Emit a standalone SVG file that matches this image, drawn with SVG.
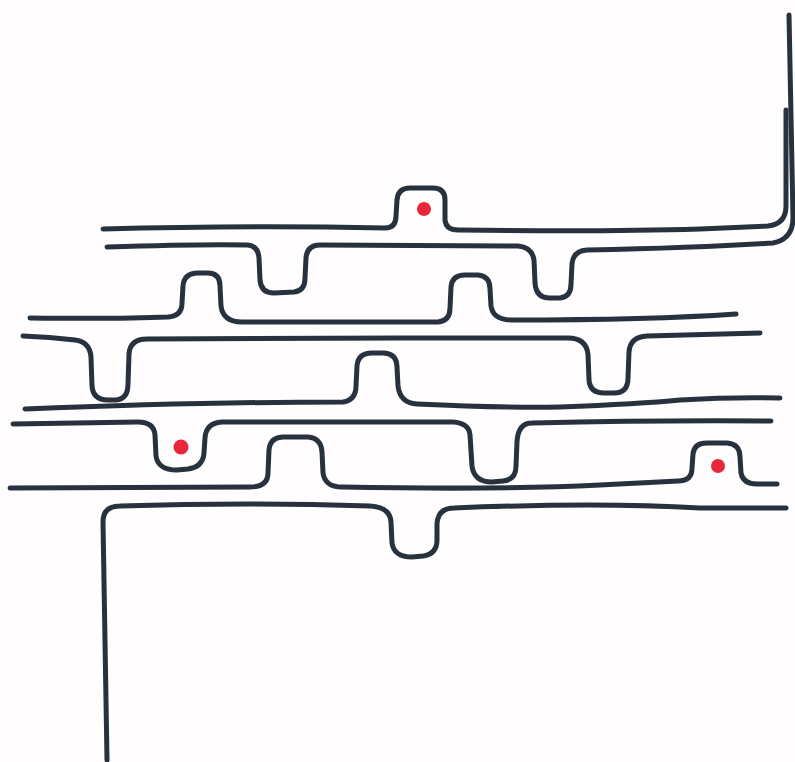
<svg xmlns="http://www.w3.org/2000/svg" width="795" height="762" viewBox="0 0 795 762">
<style>
.ln{fill:none;stroke:#27323e;stroke-width:5;stroke-linecap:round;stroke-linejoin:round}
.dot{fill:#e8283a}
</style>
<rect width="795" height="762" fill="#fffdfd"/>
<g id="lines">
<path id="lineA" class="ln" d="M103,229 Q250,225 385,228 Q396,228 396,216 L397,200 Q398,188 410,188 L433,188 Q445,188 445,200 L445,220 Q446,230 458,230 Q600,232 700,229 L768,226 Q786,224 786,206 L786,110"/>
<path id="lineB" class="ln" d="M107,247 Q200,244 248,245 Q258,246 259,258 L260,280 Q261,293 274,293 L294,292 Q305,291 305,278 L306,258 Q307,245 320,245 L518,246 Q532,247 534,260 L535,283 Q536,298 550,298 L560,298 Q571,297 571,284 L572,264 Q573,251 587,250 Q700,248 773,243 Q793,239 793,218 L789,15"/>
<path id="lineC" class="ln" d="M30,318 Q120,319 168,317 Q182,316 182,303 L183,286 Q184,273 198,273 L208,273 Q220,273 220,286 L221,306 Q223,322 242,322 L438,322 Q450,321 450,308 L451,287 Q452,275 465,275 L478,275 Q490,276 490,289 L491,306 Q493,320 512,320 Q650,320 736,314"/>
<path id="lineD" class="ln" d="M23,336 Q50,337 75,340 Q90,342 91,357 L92,386 Q93,400 108,400 L116,400 Q128,399 128,384 L129,354 Q130,339 147,339 L400,338 L568,338 Q586,338 588,354 L589,380 Q590,393 604,393 L614,393 Q628,393 628,378 L629,352 Q630,337 647,336 L760,333"/>
<path id="lineE" class="ln" d="M25,409 Q200,402 343,402 Q356,400 356,386 L357,366 Q358,353 372,353 L384,353 Q397,354 397,367 L398,386 Q400,403 417,404 Q500,408 560,407 Q640,404 680,400 Q730,397 780,398"/>
<path id="lineF" class="ln" d="M13,424 L138,422 Q154,422 155,435 L156,456 Q158,470 177,470 L188,469 Q203,467 204,453 L205,438 Q206,423 222,422 L453,422 Q469,423 470,435 L472,466 Q474,482 492,482 L503,481 Q516,480 516,466 L517,442 Q518,423 532,423 Q660,420 771,421"/>
<path id="lineG" class="ln" d="M10,488 L250,487 Q268,487 268,473 L269,450 Q270,437 284,437 L308,437 Q321,438 322,452 L323,473 Q325,487 342,487 Q500,490 600,485 L678,481 Q692,481 692,468 L693,454 Q694,443 707,443 L727,443 Q740,444 740,457 L741,473 Q743,484 757,484 L777,484"/>
<path id="lineH" class="ln" d="M107,760 L103,522 Q103,506 120,506 Q250,502 370,506 Q390,507 391,522 L392,543 Q394,557 412,557 L423,556 Q437,554 437,540 L437,524 Q438,508 454,508 Q600,502 700,508 L786,508"/>
</g>
<g id="dots">
<circle class="dot" cx="424" cy="209" r="7"/>
<circle class="dot" cx="181" cy="447" r="7.5"/>
<circle class="dot" cx="718" cy="466" r="7"/>
</g>
</svg>
